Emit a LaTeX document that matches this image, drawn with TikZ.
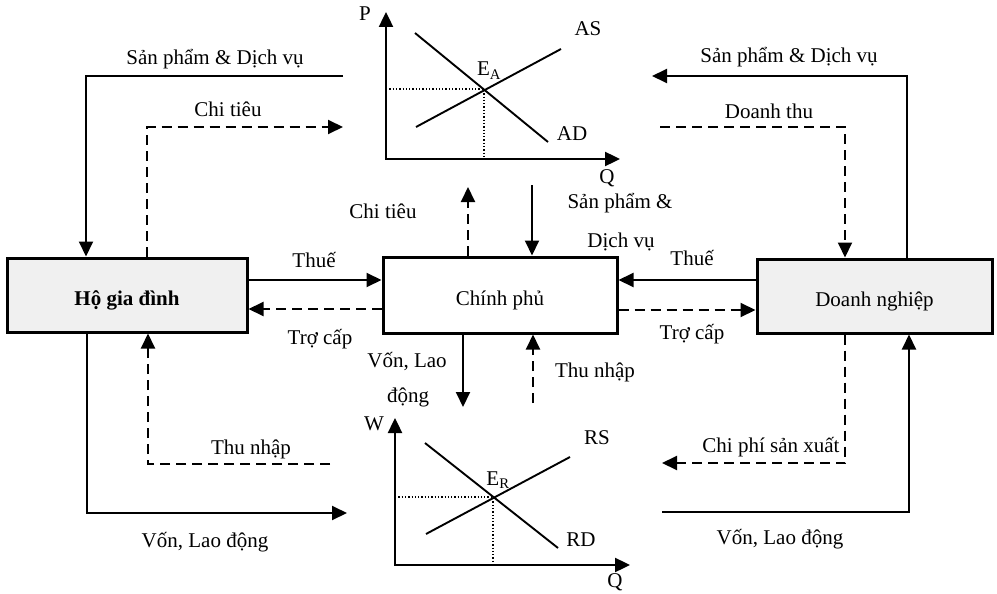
\documentclass[tikz,border=0pt]{standalone}
\usepackage{fontspec}
\setmainfont{Liberation Serif}
\usetikzlibrary{arrows.meta}
\begin{document}
\begin{tikzpicture}[x=1pt,y=-1pt,
  font=\fontsize{21}{25}\selectfont,
  flow/.style={line width=2pt,-{Triangle[length=15pt,width=14pt]}},
  dflow/.style={flow,dash pattern=on 10pt off 6pt},
  axis/.style={line width=2.4pt,{Triangle[length=15pt,width=14pt]}-{Triangle[length=15pt,width=14pt]}},
  curve/.style={line width=1.9pt},
  guide/.style={line width=1.3pt,dotted},
  box/.style={draw,line width=3pt,text height=24pt,text depth=4pt,inner sep=0pt},
  shaded/.style={box,fill=black!6},
  lab/.style={anchor=base,inner sep=0pt}]
\useasboundingbox (0,0) rectangle (997,594);

% boxes
\node[shaded,minimum width=240pt,minimum height=74pt,font=\fontsize{21}{25}\selectfont\bfseries] (hh) at (127,295) {Hộ gia đình};
\node[box,minimum width=234pt,minimum height=76pt] (cp) at (500,295) {Chính phủ};
\node[shaded,minimum width=235pt,minimum height=74pt] (dn) at (874.5,296) {Doanh nghiệp};

% corner / end coordinates
\coordinate (c1) at (86,76);   \coordinate (c1e) at (343,76);
\coordinate (c2) at (147,127); \coordinate (c2e) at (343,127);
\coordinate (c3) at (468,187);
\coordinate (c4) at (532,185);
\coordinate (c5) at (0,280);
\coordinate (c6) at (0,309);
\coordinate (c8) at (0,310);
\coordinate (c9) at (907,76);  \coordinate (c9e) at (652,76);
\coordinate (c10s) at (660,127); \coordinate (c10) at (845,127);
\coordinate (c11) at (463,407);
\coordinate (c12) at (533,403);
\coordinate (c13s) at (330,464); \coordinate (c13) at (148,464);
\coordinate (c14) at (87,513);  \coordinate (c14e) at (347,513);
\coordinate (c15) at (845,463); \coordinate (c15e) at (662,463);
\coordinate (c16s) at (662,512); \coordinate (c16) at (909,512);

% flows
\draw[flow] (c1e) -- (c1) -- (c1 |- hh.north);
\draw[dflow] (c2 |- hh.north) -- (c2) -- (c2e);
\draw[dflow] (c3 |- cp.north) -- (c3);
\draw[flow] (c4) -- (c4 |- cp.north);
\draw[flow] (hh.east |- c5) -- (cp.west |- c5);
\draw[dflow] (cp.west |- c6) -- (hh.east |- c6);
\draw[flow] (dn.west |- c5) -- (cp.east |- c5);
\draw[dflow] (cp.east |- c8) -- (dn.west |- c8);
\draw[flow] (c9 |- dn.north) -- (c9) -- (c9e);
\draw[dflow] (c10s) -- (c10) -- (c10 |- dn.north);
\draw[flow] (c11 |- cp.south) -- (c11);
\draw[dflow] (c12) -- (c12 |- cp.south);
\draw[dflow] (c13s) -- (c13) -- (c13 |- hh.south);
\draw[flow] (c14 |- hh.south) -- (c14) -- (c14e);
\draw[dflow] (c15 |- dn.south) -- (c15) -- (c15e);
\draw[flow] (c16s) -- (c16) -- (c16 |- dn.south);

% flow labels
\node[lab] (l1) at (215,65) {Sản phẩm \& Dịch vụ};
\node[lab] (l2) at (228,117) {Chi tiêu};
\node[lab] (l3) at (383,218) {Chi tiêu};
\node[lab] (l4a) at (620,208) {Sản phẩm \&};
\node[lab] (l4b) at (621,247) {Dịch vụ};
\node[lab] (l5) at (314,267) {Thuế};
\node[lab] (l6) at (320,344) {Trợ cấp};
\node[lab] (l7) at (692,265) {Thuế};
\node[lab] (l8) at (692,339) {Trợ cấp};
\node[lab] (l9) at (789,63) {Sản phẩm \& Dịch vụ};
\node[lab] (l10) at (769,118) {Doanh thu};
\node[lab] (l11a) at (407,367) {Vốn, Lao};
\node[lab] (l11b) at (408,402) {động};
\node[lab] (l12) at (595,377) {Thu nhập};
\node[lab] (l13) at (251,454) {Thu nhập};
\node[lab] (l14) at (205,547) {Vốn, Lao động};
\node[lab] (l15) at (771,452) {Chi phí sản xuất};
\node[lab] (l16) at (780,544) {Vốn, Lao động};

% top graph (AS-AD)
\coordinate (o1) at (386,159); \coordinate (p1) at (386,12); \coordinate (q1) at (620,159);
\coordinate (ea) at (484,89);
\draw[axis] (p1) -- (o1) -- (q1);
\draw[curve] (415,33) -- (548,142);
\draw[curve] (416,127) -- (561,49);
\draw[guide] (o1 |- ea) -- (ea) -- (ea |- o1);
\node[lab] (P) at (365,21) {P};
\node[lab] (EA) at (489,76) {E\textsubscript{A}};
\node[lab] (AS) at (588,36) {AS};
\node[lab] (AD) at (572,140) {AD};
\node[lab] (Q1) at (607,183) {Q};

% bottom graph (RS-RD)
\coordinate (o2) at (395,565); \coordinate (w2) at (395,418); \coordinate (q2) at (630,565);
\coordinate (er) at (493,497);
\draw[axis] (w2) -- (o2) -- (q2);
\draw[curve] (425,443) -- (558,548);
\draw[curve] (426,534) -- (570,457);
\draw[guide] (o2 |- er) -- (er) -- (er |- o2);
\node[lab] (W) at (374,430) {W};
\node[lab] (ER) at (498,485) {E\textsubscript{R}};
\node[lab] (RS) at (597,444) {RS};
\node[lab] (RD) at (581,546) {RD};
\node[lab] (Q2) at (615,587) {Q};
\end{tikzpicture}
\end{document}
